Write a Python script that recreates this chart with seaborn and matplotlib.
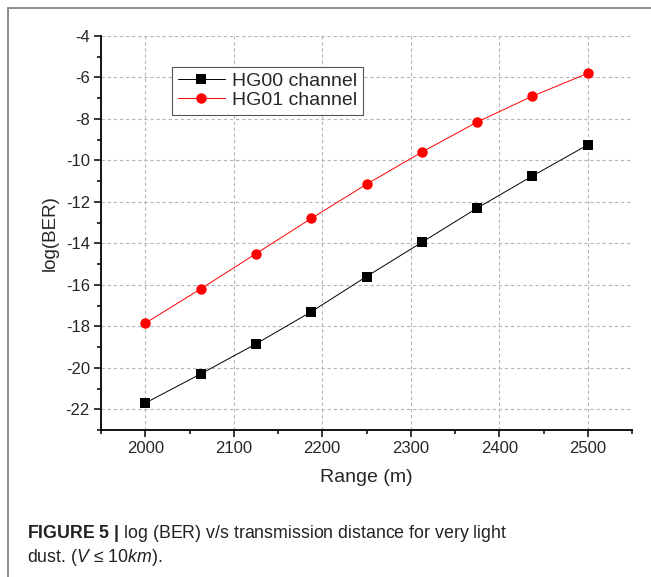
import matplotlib
matplotlib.use('Agg')
import matplotlib.pyplot as plt
from matplotlib import font_manager
from matplotlib.lines import Line2D
from matplotlib.ticker import MultipleLocator
import seaborn as sns
import pandas as pd

# data
range_m = [2000, 2062.5, 2125, 2187.5, 2250, 2312.5, 2375, 2437.5, 2500]
hg00 = [-21.7, -20.3, -18.85, -17.3, -15.6, -13.95, -12.3, -10.75, -9.25]
hg01 = [-17.85, -16.2, -14.5, -12.8, -11.15, -9.6, -8.15, -6.9, -5.8]
series_names = ['HG00 channel', 'HG01 channel']
x_ticks = [2000, 2100, 2200, 2300, 2400, 2500]
y_ticks = [-22, -20, -18, -16, -14, -12, -10, -8, -6, -4]

sns.set_theme(style='ticks')
plt.rcParams['font.family'] = ['Liberation Sans', 'DejaVu Sans']
plt.rcParams['axes.unicode_minus'] = False
plt.rcParams['mathtext.fontset'] = 'custom'
plt.rcParams['mathtext.rm'] = 'Liberation Sans'
plt.rcParams['mathtext.it'] = 'Liberation Sans:italic'
plt.rcParams['mathtext.bf'] = 'Liberation Sans:bold'

installed = {f.name for f in font_manager.fontManager.ttflist}
cap_font = 'Liberation Sans Narrow' if 'Liberation Sans Narrow' in installed else 'Liberation Sans'
cap_size = 14 if cap_font == 'Liberation Sans Narrow' else 12.8

df = pd.DataFrame({'Range': range_m * 2,
                   'logBER': hg00 + hg01,
                   'series': [series_names[0]] * len(range_m) + [series_names[1]] * len(range_m)})

fig = plt.figure(figsize=(6.51, 5.77), dpi=100)
ax = fig.add_axes([101 / 651, 1 - 430 / 577, 531 / 651, 394 / 577])

sns.lineplot(data=df[df.series == series_names[0]], x='Range', y='logBER', ax=ax,
             color='black', marker='s', markersize=6.5, markeredgewidth=0,
             linewidth=0.7, label=series_names[0])
sns.lineplot(data=df[df.series == series_names[1]], x='Range', y='logBER', ax=ax,
             color='red', marker='o', markersize=7.5, markeredgewidth=0,
             linewidth=0.7, label=series_names[1])

ax.set_xlim(1950, 2550)
ax.set_ylim(-23, -4)
ax.set_xticks(x_ticks)
ax.set_yticks(y_ticks)
ax.xaxis.set_minor_locator(MultipleLocator(50))
ax.yaxis.set_minor_locator(MultipleLocator(1))
ax.tick_params(which='major', direction='out', length=5, width=1.1, labelsize=12, pad=3, color='black')
ax.tick_params(which='minor', direction='out', length=3, width=1.1, color='black')
ax.grid(True, which='major', linestyle=(0, (3, 2.5)), color='#b5b5b5', linewidth=0.8)

for s in ['top', 'right']:
    ax.spines[s].set_visible(False)
for s in ['left', 'bottom']:
    ax.spines[s].set_linewidth(1.3)
    ax.spines[s].set_color('black')

ax.set_xlabel('Range (m)', fontsize=14, labelpad=9)
ax.set_ylabel('log(BER)', fontsize=13.5, labelpad=5)

leg = ax.legend(loc='upper left', bbox_to_anchor=(0.134, 0.922), fontsize=14,
                frameon=True, fancybox=False, framealpha=1, edgecolor='#555555',
                handlelength=2.4, labelspacing=0.05, borderpad=0.3,
                handletextpad=0.4, borderaxespad=0)
leg.get_frame().set_linewidth(0.8)

# outer frame of the figure panel
fig.add_artist(Line2D([8 / 651, 8 / 651], [0, 1 - 8 / 577], color='#8a8a8a', linewidth=1.4))
fig.add_artist(Line2D([8 / 651, 1], [1 - 8 / 577, 1 - 8 / 577], color='#8a8a8a', linewidth=1.4))

fig.text(27 / 651, 1 - 533 / 577,
         r'$\bf{FIGURE\ 5\ |}$ log (BER) v/s transmission distance for very light',
         fontsize=cap_size, family=cap_font, va='center', ha='left', color='#222222')
fig.text(27 / 651, 1 - 557 / 577,
         r'dust. ($\it{V}$ ≤ 10$\it{km}$).',
         fontsize=cap_size, family=cap_font, va='center', ha='left', color='#222222')

fig.savefig('out.png', dpi=100)
